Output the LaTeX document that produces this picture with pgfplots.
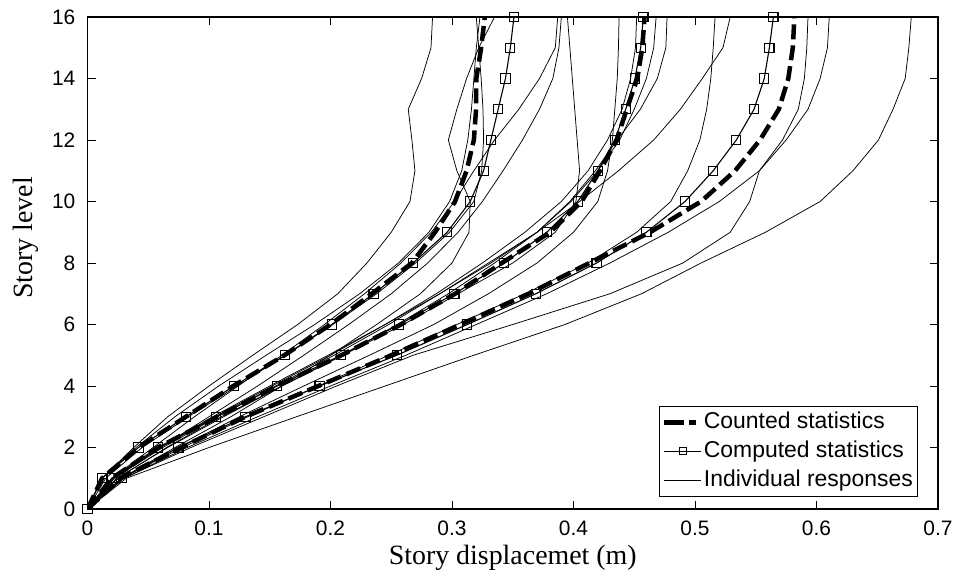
\documentclass[border=0pt]{standalone}
\usepackage{fontspec}
\setmainfont{Liberation Serif}
\setsansfont{Liberation Sans}
\usepackage{pgfplots}
\pgfplotsset{compat=1.18}
\begin{document}
\begin{tikzpicture}
\begin{axis}[name=ax, scale only axis, width=850.5bp, height=492bp,
  xmin=0, xmax=0.7, ymin=0, ymax=16,
  xtick={0,0.1,0.2,0.3,0.4,0.5,0.6,0.7},
  xticklabels={0,0.1,0.2,0.3,0.4,0.5,0.6,0.7},
  ytick={0,2,4,6,8,10,12,14,16},
  yticklabels={0,2,4,6,8,10,12,14,16},
  tick align=inside, major tick length=8.5bp,
  tick style={black, line width=0.8bp},
  axis line style={black, line width=1.2bp},
  xticklabel style={font=\fontsize{21}{21}\selectfont\sffamily, inner sep=0pt, anchor=north, yshift=-12bp},
  yticklabel style={font=\fontsize{21}{21}\selectfont\sffamily, inner sep=0pt, anchor=east, xshift=-12bp},
  xlabel={Story displacemet (m)},
  ylabel={Story level},
  xlabel style={font=\fontsize{28}{28}\selectfont, at={(axis description cs:0.5,-0.1138)}, anchor=base},
  ylabel style={font=\fontsize{28}{28}\selectfont, at={(axis description cs:-0.0641,0.551)}, anchor=base},
  legend cell align=left,
  legend style={at={(axis description cs:1,0)}, anchor=south east, xshift=-19.7bp, yshift=12.3bp,
    draw=black, line width=1bp, fill=white, font=\fontsize{23}{23}\selectfont\sffamily,
    inner xsep=3bp, inner ysep=3bp, row sep=3.5bp,
    nodes={text height=16.5bp, text depth=5bp, inner sep=2bp}},
]
% Individual responses
\pgfplotsset{every axis plot/.append style={forget plot}}
\addplot[black, line width=0.75bp] coordinates {(0,0)(.012,1)(.038,2)(.066,3)(.100,4)(.136,5)(.173,6)(.206,7)(.230,8)(.250,9)(.2654,10)(.2695,11)(.267,12)(.264,13)(.275,14)(.2827,15)(.284,16)};
\addplot[black, line width=0.75bp] coordinates {(0,0)(.028,1)(.072,2)(.118,3)(.160,4)(.200,5)(.238,6)(.274,7)(.300,8)(.314,9)(.315,10)(.304,11)(.297,12)(.304,13)(.312,14)(.322,15)(.335,16)};
\addplot[black, line width=0.75bp] coordinates {(0,0)(.015,1)(.045,2)(.083,3)(.123,4)(.163,5)(.202,6)(.238,7)(.270,8)(.298,9)(.318,10)(.3244,11)(.326,12)(.3255,13)(.324,14)(.322,15)(.320,16)};
\addplot[black, line width=0.75bp] coordinates {(0,0)(.012,1)(.040,2)(.072,3)(.108,4)(.147,5)(.187,6)(.224,7)(.256,8)(.281,9)(.298,10)(.308,11)(.313,12)(.316,13)(.318,14)(.320,15)(.323,16)};
\addplot[black, line width=0.75bp] coordinates {(0,0)(.020,1)(.054,2)(.088,3)(.124,4)(.160,5)(.195,6)(.228,7)(.258,8)(.283,9)(.302,10)(.318,11)(.335,12)(.355,13)(.372,14)(.385,15)(.387,16)};
\addplot[black, line width=0.75bp] coordinates {(0,0)(.022,1)(.060,2)(.100,3)(.140,4)(.178,5)(.215,6)(.250,7)(.280,8)(.305,9)(.325,10)(.342,11)(.358,12)(.372,13)(.383,14)(.388,15)(.390,16)};
\addplot[black, line width=0.75bp] coordinates {(0,0)(.025,1)(.065,2)(.110,3)(.160,4)(.210,5)(.260,6)(.305,7)(.350,8)(.385,9)(.402,10)(.405,11)(.403,12)(.401,13)(.399,14)(.397,15)(.395,16)};
\addplot[black, line width=0.75bp] coordinates {(0,0)(.028,1)(.075,2)(.125,3)(.178,4)(.232,5)(.285,6)(.330,7)(.370,8)(.400,9)(.420,10)(.428,11)(.432,12)(.434,13)(.436,14)(.437,15)(.4375,16)};
\addplot[black, line width=0.75bp] coordinates {(0,0)(.020,1)(.060,2)(.105,3)(.152,4)(.200,5)(.245,6)(.287,7)(.325,8)(.360,9)(.390,10)(.412,11)(.428,12)(.440,13)(.447,14)(.451,15)(.452,16)};
\addplot[black, line width=0.75bp] coordinates {(0,0)(.021,1)(.060,2)(.103,3)(.150,4)(.198,5)(.245,6)(.290,7)(.332,8)(.370,9)(.398,10)(.420,11)(.438,12)(.450,13)(.460,14)(.466,15)(.468,16)};
\addplot[black, line width=0.75bp] coordinates {(0,0)(.024,1)(.066,2)(.112,3)(.160,4)(.210,5)(.255,6)(.297,7)(.335,8)(.370,9)(.397,10)(.418,11)(.436,12)(.455,13)(.469,14)(.476,15)(.477,16)};
\addplot[black, line width=0.75bp] coordinates {(0,0)(.028,1)(.078,2)(.132,3)(.190,4)(.248,5)(.304,6)(.360,7)(.412,8)(.452,9)(.480,10)(.494,11)(.504,12)(.5096,13)(.513,14)(.515,15)(.5165,16)};
\addplot[black, line width=0.75bp] coordinates {(0,0)(.022,1)(.062,2)(.107,3)(.155,4)(.203,5)(.248,6)(.290,7)(.330,8)(.370,9)(.405,10)(.437,11)(.466,12)(.488,13)(.506,14)(.523,15)(.529,16)};
\addplot[black, line width=0.75bp] coordinates {(0,0)(.030,1)(.085,2)(.145,3)(.205,4)(.268,5)(.350,6)(.430,7)(.490,8)(.529,9)(.545,10)(.553,11)(.572,12)(.585,13)(.590,14)(.592,15)(.593,16)};
\addplot[black, line width=0.75bp] coordinates {(0,0)(.030,1)(.082,2)(.140,3)(.200,4)(.262,5)(.320,6)(.378,7)(.430,8)(.478,9)(.520,10)(.553,11)(.575,12)(.593,13)(.603,14)(.609,15)(.6105,16)};
\addplot[black, line width=0.75bp] coordinates {(0,0)(.032,1)(.100,2)(.172,3)(.245,4)(.318,5)(.393,6)(.456,7)(.505,8)(.558,9)(.603,10)(.630,11)(.651,12)(.663,13)(.673,14)(.676,15)(.678,16)};
% Counted statistics
\addplot[black, line width=4.5bp, dash pattern=on 15bp off 6bp] coordinates {(0,0)(.012,1)(.042,2)(.081,3)(.120,4)(.162,5)(.200,6)(.234,7)(.267,8)(.286,9)(.3025,10)(.312,11)(.318,12)(.3198,13)(.320,14)(.324,15)(.327,16)};
\addplot[black, line width=4.5bp, dash pattern=on 15bp off 6bp] coordinates {(0,0)(.020,1)(.058,2)(.107,3)(.156,4)(.209,5)(.258,6)(.3025,7)(.341,8)(.3807,9)(.4067,10)(.4218,11)(.4355,12)(.4438,13)(.4525,14)(.4566,15)(.4585,16)};
\addplot[black, line width=4.5bp, dash pattern=on 15bp off 6bp] coordinates {(0,0)(.027,1)(.077,2)(.130,3)(.190,4)(.250,5)(.307,6)(.363,7)(.413,8)(.463,9)(.505,10)(.533,11)(.5535,12)(.569,13)(.5768,14)(.5805,15)(.5818,16)};
% Computed statistics
\addplot[black, line width=1.1bp, mark=square, mark size=4.6bp, mark options={solid, line width=1.1bp}] coordinates {(0,0)(.0117,1)(.042,2)(.081,3)(.1206,4)(.1626,5)(.201,6)(.2355,7)(.268,8)(.296,9)(.315,10)(.326,11)(.332,12)(.338,13)(.344,14)(.348,15)(.351,16)};
\addplot[black, line width=1.1bp, mark=square, mark size=4.6bp, mark options={solid, line width=1.1bp}] coordinates {(0,0)(.020,1)(.058,2)(.106,3)(.156,4)(.2087,5)(.2566,6)(.302,7)(.343,8)(.378,9)(.4035,10)(.420,11)(.434,12)(.443,13)(.4506,14)(.4553,15)(.4575,16)};
\addplot[black, line width=1.1bp, mark=square, mark size=4.6bp, mark options={solid, line width=1.1bp}] coordinates {(0,0)(.028,1)(.0748,2)(.130,3)(.191,4)(.2545,5)(.3126,6)(.369,7)(.419,8)(.460,9)(.4918,10)(.515,11)(.534,12)(.5486,13)(.557,14)(.5612,15)(.5645,16)};
% Legend
\pgfplotsset{every axis plot/.append style={forget plot=false}}
\addlegendimage{legend image code/.code={\draw[black, line width=4.5bp, dash pattern=on 20bp off 5bp on 7bp off 20bp] (0bp,0bp) -- (34bp,0bp);}}
\addlegendentry{Counted statistics}
\addlegendimage{legend image code/.code={\draw[black, line width=1bp] (0bp,0bp) -- (37bp,0bp); \draw[black, line width=1bp] (15bp,-3.5bp) rectangle (22bp,3.5bp);}}
\addlegendentry{Computed statistics}
\addlegendimage{legend image code/.code={\draw[black, line width=0.75bp] (0bp,0bp) -- (37bp,0bp);}}
\addlegendentry{Individual responses}
\end{axis}
\pgfresetboundingbox
\path ([xshift=-87.5bp,yshift=-66bp]ax.south west) rectangle ([xshift=21bp,yshift=17bp]ax.north east);
\end{tikzpicture}
\end{document}
